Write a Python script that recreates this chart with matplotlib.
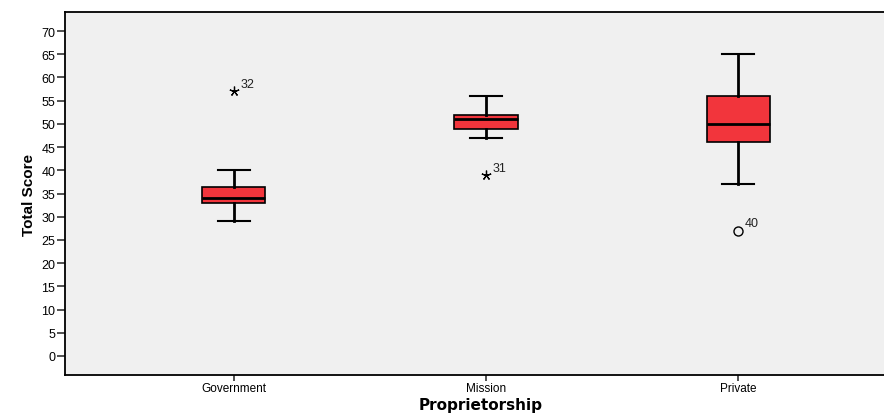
import matplotlib.pyplot as plt

groups = ["Government", "Mission", "Private"]
whislo = [29, 47, 37]
q1 = [33, 49, 46]
med = [34, 51, 50]
q3 = [36.5, 52, 56]
whishi = [40, 56, 65]
# outliers: (group index, value, case id, marker)
out_group = [0, 1, 2]
out_value = [57, 39, 27]
out_case = ["32", "31", "40"]
out_marker = ["*", "*", "o"]

plt.rcParams['font.family'] = ['Liberation Sans', 'DejaVu Sans']

fig = plt.figure(figsize=(8.84, 4.14), dpi=100)
ax = fig.add_axes([65 / 884, 1 - 376 / 414, 1 - 65 / 884 + 0.01, (376 - 13) / 414])
ax.set_facecolor('#f0f0f0')

stats = []
for i, g in enumerate(groups):
    stats.append(dict(label=g, whislo=whislo[i], q1=q1[i], med=med[i],
                      q3=q3[i], whishi=whishi[i], fliers=[]))

pos = [1, 2, 3]
ax.bxp(stats, positions=pos, widths=0.25, patch_artist=True, showfliers=False,
       boxprops=dict(facecolor='#f2353c', edgecolor='black', linewidth=1.2),
       medianprops=dict(color='black', linewidth=2),
       whiskerprops=dict(color='black', linewidth=2),
       capprops=dict(color='black', linewidth=1.5),
       capwidths=0.125)

for g, v, c, m in zip(out_group, out_value, out_case, out_marker):
    if m == 'o':
        ax.plot(pos[g], v, marker='o', mfc='none', mec='black', ms=6.5, mew=1)
    else:
        ax.plot(pos[g], v, marker=(5, 2, 0), color='black', ms=7, mew=0.9)
    ax.annotate(c, (pos[g], v), xytext=(5, 3), textcoords='offset points',
                fontsize=9, color='#222222')

ax.set_xlim(0.331, 3.613)
ax.set_ylim(-4.1, 74.1)
ax.set_yticks(range(0, 71, 5))
ax.set_xticks(pos)
ax.set_xticklabels(groups)
ax.tick_params(axis='y', labelsize=9, length=6, width=1.2, color='#333333', pad=1)
ax.tick_params(axis='x', labelsize=8.5, length=4, width=1.2, color='#333333', pad=1)
for s in ['left', 'bottom', 'top']:
    ax.spines[s].set_linewidth(1.3)
ax.spines['right'].set_visible(False)

ax.set_ylabel('Total Score', fontsize=11, fontweight='bold', fontstretch='condensed', labelpad=4)
fig.text(481 / 884, 1 - 406 / 414, 'Proprietorship', ha='center', va='center',
         fontsize=11, fontweight='bold', family='DejaVu Sans')

fig.savefig('out.png', dpi=100)
